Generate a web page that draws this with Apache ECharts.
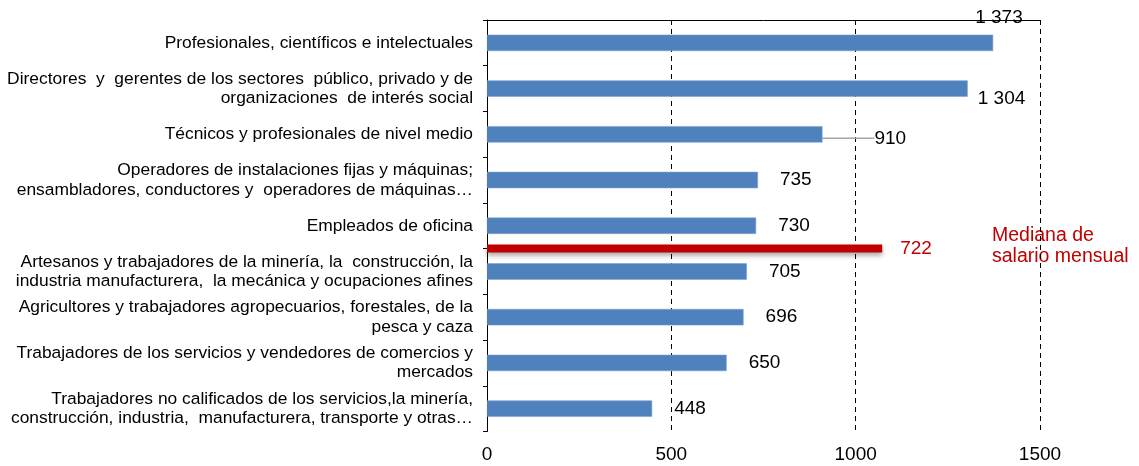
<!DOCTYPE html>
<html>
<head>
<meta charset="utf-8">
<script src="https://cdn.jsdelivr.net/npm/echarts@6/dist/echarts.min.js"></script>
<style>
  html, body { margin: 0; padding: 0; background: #fff; }
  #chart { width: 1139px; height: 466px; }
</style>
</head>
<body>
<div id="chart"></div>
<script>
var categorias = [
    'Profesionales, científicos e intelectuales',
    'Directores  y  gerentes de los sectores  público, privado y de\norganizaciones  de interés social',
    'Técnicos y profesionales de nivel medio',
    'Operadores de instalaciones fijas y máquinas;\nensambladores, conductores y  operadores de máquinas…',
    'Empleados de oficina',
    'Artesanos y trabajadores de la minería, la  construcción, la\nindustria manufacturera,  la mecánica y ocupaciones afines',
    'Agricultores y trabajadores agropecuarios, forestales, de la\npesca y caza',
    'Trabajadores de los servicios y vendedores de comercios y\nmercados',
    'Trabajadores no calificados de los servicios,la minería,\nconstrucción, industria,  manufacturera, transporte y otras…'
];
var salarios = [1373, 1304, 910, 735, 730, 705, 696, 650, 448];

// mediana: valor que se rotula y largo de la barra roja (en unidades del eje)
var mediana = 722;
var medianaFin = 1072;
var medianaPos = 5; // limite entre "Empleados de oficina" y "Artesanos..."

var ejeX = [0, 500, 1000, 1500];

var fuente = 'Liberation Sans, Arial, sans-serif';

function miles(v) {
    var s = String(v);
    return s.length > 3 ? s.slice(0, s.length - 3) + ' ' + s.slice(-3) : s;
}

var barData = [];
for (var i = 0; i < salarios.length; i++) {
    var item = { value: salarios[i] };
    if (i === 2) {
        item.labelLine = { show: true, lineStyle: { color: '#a6a6a6', width: 1.5 } };
    }
    barData.push(item);
}

var chart = echarts.init(document.getElementById('chart'));
chart.setOption({
    animation: false,
    textStyle: { fontFamily: fuente },
    grid: { left: 487, right: 99, top: 20, bottom: 34.5 },
    xAxis: {
        type: 'value',
        min: ejeX[0],
        max: ejeX[ejeX.length - 1],
        interval: 500,
        axisLine: { show: true, lineStyle: { color: '#000', width: 1 } },
        axisTick: { show: true, length: 4, lineStyle: { color: '#000' } },
        axisLabel: {
            color: '#000', fontSize: 19, margin: 14, fontFamily: fuente,
            formatter: function (v) { return String(v); }
        },
        splitLine: { show: true, lineStyle: { color: '#000', type: [5, 4], width: 1 } }
    },
    yAxis: [{
        type: 'category',
        inverse: true,
        data: categorias,
        axisLine: { show: true, lineStyle: { color: '#000', width: 1 } },
        axisTick: { show: true, length: 4, lineStyle: { color: '#000' } },
        axisLabel: {
            interval: 0,
            color: '#000',
            fontSize: 17.4,
            lineHeight: 19.5,
            margin: 14,
            align: 'right',
            fontFamily: fuente
        },
        splitLine: { show: false }
    }, {
        type: 'value',
        inverse: true,
        min: 0,
        max: categorias.length,
        show: false
    }],
    series: [{
        name: 'Salario',
        type: 'bar',
        data: barData,
        barWidth: '36%',
        itemStyle: { color: '#4F81BD', borderColor: '#7FA3D0', borderWidth: 0.6 },
        label: {
            show: true,
            position: 'right',
            distance: 22,
            color: '#000',
            fontSize: 19,
            fontFamily: fuente,
            formatter: function (p) { return miles(p.value); }
        },
        labelLayout: function (p) {
            if (p.dataIndex === 0) return { dx: -40, dy: -25 };
            if (p.dataIndex === 1) return { dx: -12, dy: 10 };
            if (p.dataIndex === 2) return { dx: 30, dy: 4 };
            return {};
        },
        z: 2
    }, {
        name: 'Mediana',
        type: 'line',
        yAxisIndex: 1,
        data: [[0, medianaPos], [medianaFin, medianaPos]],
        symbol: 'none',
        lineStyle: {
            color: '#C00000',
            width: 8,
            cap: 'butt',
            shadowColor: 'rgba(0,0,0,0.35)',
            shadowBlur: 5,
            shadowOffsetY: 3
        },
        endLabel: {
            show: true,
            distance: 18,
            color: '#C00000',
            fontSize: 19,
            fontFamily: fuente,
            formatter: function () { return String(mediana); }
        },
        z: 3
    }],
    graphic: [{
        type: 'text',
        left: 992,
        top: 225,
        style: {
            text: 'Mediana de\nsalario mensual',
            fill: '#C00000',
            font: '19.5px ' + fuente,
            lineHeight: 21
        }
    }]
});
</script>
</body>
</html>
